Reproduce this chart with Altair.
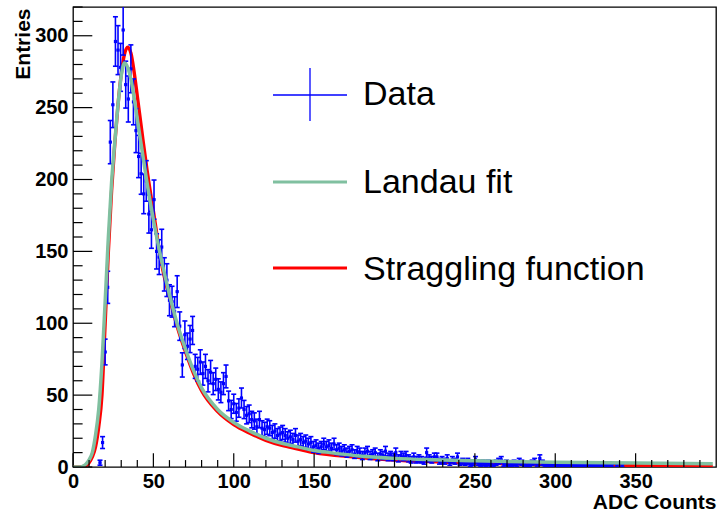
import altair as alt
import pandas as pd

# ---------------- data ----------------
bin_width = 1.6
bin_start = 16.8
counts = [3, 17, 80, 125, 226, 252, 296, 290, 278, 304,
          266, 256, 277, 254, 234, 216, 204, 190, 199, 176,
          165, 186, 150, 146, 153, 134, 130, 116, 115, 108,
          122, 98, 71, 92, 84, 89, 95, 70, 68, 73,
          65, 70, 60, 66, 58, 61, 54, 52, 58, 63,
          46, 40, 44, 38, 41, 48, 40, 36, 37, 33,
          32, 28, 33, 27, 26, 28, 27, 24, 25, 22,
          23, 24, 22, 20, 21, 19, 22, 18, 19, 17,
          18, 16, 17, 14, 15, 13, 14, 16, 14, 15,
          13, 16, 12, 13, 11, 12, 10, 11, 12, 9,
          11, 10, 8, 10, 11, 8, 9, 10, 7, 9,
          8, 11, 7, 8, 7, 10, 6, 8, 7, 8,
          6, 5, 7, 5, 6, 5, 4, 10, 6, 5,
          7, 7, 4, 5, 4, 6, 3, 5, 4, 7,
          3, 4, 3, 4, 2, 3, 5, 3, 2, 3,
          2, 3, 2, 1, 3, 4, 5, 2, 3, 1,
          2, 3, 2, 4, 3, 2, 1, 2, 3, 4,
          2, 6, 3, 1, 2, 1, 2, 1, 2, 1,
          2, 1, 1, 2, 1, 1, 2, 1, 1, 2,
          1, 1, 1, 2, 1, 1, 1, 1, 2, 1,
          0, 1, 0, 1]
centers = [round(bin_start + bin_width * i, 2) for i in range(len(counts))]

landau_x = [0, 4, 6, 8, 10, 12, 14, 16, 18, 20, 22, 24, 26, 28, 30, 32, 34, 36, 38, 40,
            43, 46, 50, 55, 60, 65, 70, 75, 80, 90, 100, 110, 120, 130, 140, 150, 160,
            180, 200, 225, 250, 300, 350, 398]
landau_y = [0, 0, 0.5, 2, 5, 10, 22, 40, 72, 115, 160, 198, 226, 252, 272, 281, 278, 270, 257, 242,
            220, 198, 172, 144, 120, 99, 82, 67, 55, 40, 31, 25, 20, 16.5, 14, 11.5, 10,
            7.5, 6, 5, 4.3, 3.3, 2.7, 2.2]

strag_x = [0, 4, 8, 10, 12, 14, 16, 18, 20, 22, 24, 26, 28, 30, 32, 34, 36, 38, 40, 43,
           46, 50, 55, 60, 65, 70, 75, 80, 90, 100, 110, 120, 130, 140, 150, 175, 200,
           250, 300, 350, 398]
strag_y = [0, 0, 1, 3, 7, 14, 28, 50, 100, 150, 192, 225, 252, 273, 287, 292, 288, 275, 258, 232,
           207, 178, 142, 118, 97, 80, 65, 53, 38.5, 29.5, 23.5, 18.5, 15, 12.5, 10, 7, 4.8,
           2.8, 1.6, 0.9, 0.3]

x_major = [0, 50, 100, 150, 200, 250, 300, 350]
x_minor = [v for v in range(10, 400, 10) if v % 50 != 0]
y_major = [0, 50, 100, 150, 200, 250, 300]
y_minor = [v for v in range(10, 321, 10) if v % 50 != 0]

legend_labels = ["Data", "Landau fit", "Straggling function"]

# ---------------- styling ----------------
W, H = 643, 460
FONT = "Liberation Sans"
BLUE = "#0000ff"
GREEN = "#80c0a0"
RED = "#ff0000"

xs = alt.Scale(domain=[0, 400], nice=False, zero=False)
ys = alt.Scale(domain=[0, 320], nice=False, zero=False)

x_axis = alt.Axis(values=x_major, ticks=False, tickSize=0, domain=False, grid=False,
                  labelFont=FONT, labelFontWeight="bold", labelFontSize=20, labelColor="black",
                  labelPadding=4, labelFlush=False, labelOverlap=False,
                  title="ADC Counts", titleFont=FONT, titleFontWeight="bold", titleFontSize=21,
                  titleColor="black", titleAlign="right", titleX=W, titleY=41,
                  titleBaseline="alphabetic")
y_axis = alt.Axis(values=y_major, ticks=False, tickSize=0, domain=False, grid=False,
                  labelFont=FONT, labelFontWeight="bold", labelFontSize=20, labelColor="black",
                  labelPadding=5, labelFlush=False, labelOverlap=False,
                  title="Entries", titleFont=FONT, titleFontWeight="bold", titleFontSize=21,
                  titleColor="black", titleAngle=270, titleAlign="right", titleX=-44, titleY=1,
                  titleBaseline="alphabetic")


def X(f):
    return alt.X(f, type="quantitative", scale=xs, axis=x_axis)


def Y(f):
    return alt.Y(f, type="quantitative", scale=ys, axis=y_axis)


hist = pd.DataFrame({"x": centers, "n": counts})
hist = hist[hist["n"] > 0]

base = alt.Chart(hist).transform_calculate(
    lo="datum.n - sqrt(datum.n)",
    hi="datum.n + sqrt(datum.n)",
    xl="datum.x - %f" % (bin_width / 2),
    xr="datum.x + %f" % (bin_width / 2),
)

SW = 1.6
vbars = base.mark_rule(color=BLUE, strokeWidth=SW, clip=True).encode(
    x=X("x"), y=Y("lo"), y2="hi:Q")
hbars = base.mark_rule(color=BLUE, strokeWidth=SW, clip=True).encode(
    x=X("xl"), x2="xr:Q", y=Y("n"))
cap_lo = base.mark_tick(color=BLUE, orient="horizontal", size=5, thickness=SW, clip=True,
                        opacity=1).encode(x=X("x"), y=Y("lo"))
cap_hi = base.mark_tick(color=BLUE, orient="horizontal", size=5, thickness=SW, clip=True,
                        opacity=1).encode(x=X("x"), y=Y("hi"))
markers = base.mark_square(color=BLUE, size=10, opacity=1, clip=True).encode(
    x=X("x"), y=Y("n"))

landau = alt.Chart(pd.DataFrame({"x": landau_x, "y": landau_y})).mark_line(
    color=GREEN, strokeWidth=3.5, interpolate="monotone", clip=True).encode(x=X("x"), y=Y("y"))
strag = alt.Chart(pd.DataFrame({"x": strag_x, "y": strag_y})).mark_line(
    color=RED, strokeWidth=3.4, interpolate="monotone", clip=True).encode(x=X("x"), y=Y("y"))

# inward ticks (ROOT style)
ytick_major = alt.Chart(pd.DataFrame({"v": y_major})).mark_rule(color="black", strokeWidth=1.2).encode(
    y=Y("v"), x=alt.value(0), x2=alt.value(19.3))
ytick_minor = alt.Chart(pd.DataFrame({"v": y_minor})).mark_rule(color="black", strokeWidth=1.2).encode(
    y=Y("v"), x=alt.value(0), x2=alt.value(9.6))
xtick_major = alt.Chart(pd.DataFrame({"v": x_major})).mark_rule(color="black", strokeWidth=1.2).encode(
    x=X("v"), y=alt.value(H), y2=alt.value(H - 13.8))
xtick_minor = alt.Chart(pd.DataFrame({"v": x_minor})).mark_rule(color="black", strokeWidth=1.2).encode(
    x=X("v"), y=alt.value(H), y2=alt.value(H - 6.9))

# legend drawn by hand
one = pd.DataFrame({"k": [0]})
leg_items = []
text_y = [98, 186, 273]
for label, ty in zip(legend_labels, text_y):
    leg_items.append(alt.Chart(one).mark_text(
        text=label, font=FONT, fontSize=34, align="left", baseline="alphabetic", color="black"
    ).encode(x=alt.value(290), y=alt.value(ty)))
leg_items.append(alt.Chart(one).mark_rule(color=BLUE, strokeWidth=1.3).encode(
    x=alt.value(200), x2=alt.value(274), y=alt.value(88)))
leg_items.append(alt.Chart(one).mark_rule(color=BLUE, strokeWidth=1.3).encode(
    x=alt.value(237), y=alt.value(61), y2=alt.value(114)))
leg_items.append(alt.Chart(one).mark_rule(color=GREEN, strokeWidth=3).encode(
    x=alt.value(200), x2=alt.value(274), y=alt.value(175)))
leg_items.append(alt.Chart(one).mark_rule(color=RED, strokeWidth=3).encode(
    x=alt.value(200), x2=alt.value(274), y=alt.value(261)))

chart = alt.layer(
    strag, vbars, hbars, cap_lo, cap_hi, markers, landau,
    ytick_major, ytick_minor, xtick_major, xtick_minor,
    *leg_items
).properties(
    width=W, height=H,
    autosize=alt.AutoSizeParams(type="none"),
    padding={"left": 73, "top": 7, "right": 1, "bottom": 47},
    background="white",
).configure_view(stroke="black", strokeWidth=1.3)

chart.save("out.html", embed_options={"renderer": "svg", "actions": False})
